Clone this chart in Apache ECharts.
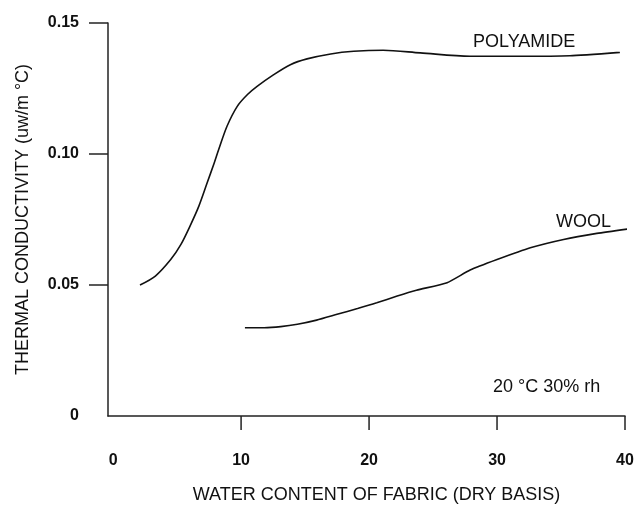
<!DOCTYPE html>
<html>
<head>
<meta charset="utf-8">
<script src="https://cdn.jsdelivr.net/npm/echarts@6/dist/echarts.min.js"></script>
<style>
html,body{margin:0;padding:0;background:#fff;}
#chart{width:637px;height:509px;}
</style>
</head>
<body>
<div id="chart"></div>
<script>
// ---- data ----
var polyamideX = [2.1, 3.3, 4.5, 5.3, 6.0, 6.7, 7.35, 7.9, 8.25, 8.9, 9.7, 10.5, 11.25, 12.55, 13.85, 15.15, 17.0, 18.8, 21.1, 24.0, 27.9, 31.8, 35.7, 39.6];
var polyamideY = [0.050, 0.0534, 0.0597, 0.0655, 0.0724, 0.0801, 0.089, 0.0966, 0.1017, 0.1106, 0.1182, 0.1227, 0.1258, 0.1303, 0.1341, 0.1363, 0.1382, 0.1392, 0.1396, 0.1386, 0.1373, 0.1373, 0.1375, 0.1388];
var woolX = [10.3, 11.8, 13.1, 14.4, 15.9, 17.5, 19.1, 20.6, 22.2, 23.7, 26.1, 27.9, 30.0, 32.6, 35.2, 37.8, 40.4];
var woolY = [0.0337, 0.0337, 0.0341, 0.035, 0.0366, 0.0388, 0.041, 0.0432, 0.0458, 0.048, 0.0509, 0.0557, 0.0597, 0.0642, 0.0674, 0.0697, 0.0715];
var xTickValues = [10, 20, 30, 40];
var yTickValues = [0.05, 0.10, 0.15];
var xMin = -0.4, xMax = 40;
var yMin = 0, yMax = 0.15;
var xTitle = 'WATER CONTENT OF FABRIC (DRY BASIS)';
var yTitle = 'THERMAL CONDUCTIVITY (uw/m \u00B0C)';
var seriesNames = ['POLYAMIDE', 'WOOL'];
var noteText = '20 \u00B0C 30% rh';

function zip(a, b) { return a.map(function (v, i) { return [v, b[i]]; }); }

var FONT = '"Liberation Sans", Arial, Helvetica, sans-serif';
var INK = '#111';

var chart = echarts.init(document.getElementById('chart'));
chart.setOption({
  animation: false,
  backgroundColor: '#fff',
  grid: { left: 108, right: 12, top: 23, bottom: 93 },
  xAxis: {
    type: 'value', min: xMin, max: xMax, splitNumber: 4,
    axisLine: { onZero: false, lineStyle: { color: '#222', width: 1.5 } },
    axisTick: { show: false },
    splitLine: { show: false },
    axisLabel: {
      showMinLabel: false, margin: 37,
      color: INK, fontFamily: FONT, fontWeight: 'bold', fontSize: 16,
      formatter: function (v) { return (v % 10 === 0) ? String(v) : ''; }
    },
    name: xTitle, nameLocation: 'middle', nameGap: 70,
    nameTextStyle: { color: INK, fontFamily: FONT, fontSize: 18, padding: [0, 0, 0, 20] }
  },
  yAxis: {
    type: 'value', min: yMin, max: yMax, interval: 0.05,
    axisLine: { show: true, onZero: false, lineStyle: { color: '#222', width: 1.5 } },
    axisTick: { show: false },
    splitLine: { show: false },
    axisLabel: {
      margin: 29, color: INK, fontFamily: FONT, fontWeight: 'bold', fontSize: 16,
      formatter: function (v) { return v === 0 ? '0' : v.toFixed(2); }
    },
    name: yTitle, nameLocation: 'middle', nameGap: 76, nameRotate: 90,
    nameTextStyle: { color: INK, fontFamily: FONT, fontSize: 18 }
  },
  series: [
    {
      name: seriesNames[0], type: 'line', data: zip(polyamideX, polyamideY),
      smooth: 0.3, showSymbol: false, clip: false,
      lineStyle: { color: INK, width: 1.6 }
    },
    {
      name: seriesNames[1], type: 'line', data: zip(woolX, woolY),
      smooth: 0.2, showSymbol: false, clip: false,
      lineStyle: { color: INK, width: 1.6 }
    },
    {
      type: 'custom', clip: false, silent: true,
      data: xTickValues.map(function (v) { return [v, yMin]; }),
      renderItem: function (params, api) {
        var p = api.coord([api.value(0), api.value(1)]);
        return { type: 'line', shape: { x1: p[0], y1: p[1], x2: p[0], y2: p[1] + 14 },
                 style: { stroke: '#222', lineWidth: 1.5 } };
      }
    },
    {
      type: 'custom', clip: false, silent: true,
      data: yTickValues.map(function (v) { return [xMin, v]; }),
      renderItem: function (params, api) {
        var p = api.coord([api.value(0), api.value(1)]);
        return { type: 'line', shape: { x1: p[0], y1: p[1], x2: p[0] - 19, y2: p[1] },
                 style: { stroke: '#222', lineWidth: 1.5 } };
      }
    }
  ],
  graphic: [
    { type: 'text', x: 473, y: 42, style: { text: seriesNames[0], font: '18px ' + FONT, fill: INK, align: 'left', verticalAlign: 'middle' } },
    { type: 'text', x: 556, y: 222, style: { text: seriesNames[1], font: '18px ' + FONT, fill: INK, align: 'left', verticalAlign: 'middle' } },
    { type: 'text', x: 493, y: 387, style: { text: noteText, font: '18px ' + FONT, fill: INK, align: 'left', verticalAlign: 'middle' } }
  ]
});
</script>
</body>
</html>
